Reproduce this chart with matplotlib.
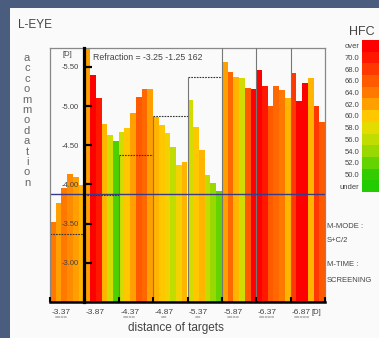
import matplotlib
matplotlib.use('Agg')
import matplotlib.pyplot as plt
import numpy as np
from matplotlib.colors import LinearSegmentedColormap, Normalize
from matplotlib.patches import Rectangle

plt.rcParams['font.family'] = ['Liberation Sans', 'DejaVu Sans']

# ---------------- data ----------------
target_labels = ["-3.37", "-3.87", "-4.37", "-4.87", "-5.37", "-5.87", "-6.37", "-6.87"]
target_values = [-3.37, -3.87, -4.37, -4.87, -5.37, -5.87, -6.37, -6.87]
target_marks = ["====", "", "====", "==", "==", "====", "=====", "====="]

accommodation = [
    -3.52, -3.76, -3.95, -4.13, -4.09, -3.99,
    -5.90, -5.40, -5.10, -4.77, -4.63, -4.56,
    -4.67, -4.72, -4.91, -5.12, -5.22, -5.22,
    -4.86, -4.76, -4.66, -4.48, -4.25, -4.28,
    -5.08, -4.73, -4.44, -4.12, -4.02, -3.92,
    -5.56, -5.44, -5.37, -5.36, -5.23, -5.22,
    -5.46, -5.26, -5.00, -5.25, -5.21, -5.10,
    -5.42, -5.06, -5.29, -5.36, -5.00, -4.79,
]
hfc = [
    64, 62, 64, 63, 62, 61,
    62, 72, 70, 61, 57, 51,
    57, 60, 62, 66, 65, 62,
    61, 60, 59, 56, 59, 61,
    57, 60, 61, 56, 54, 52,
    62, 65, 61, 57, 66, 71,
    72, 70, 66, 65, 64, 61,
    68, 72, 71, 61, 68, 66,
]
refraction_se = -3.875
refraction_text = "Refraction = -3.25 -1.25 162"

ytick_values = [-5.5, -5.0, -4.5, -4.0, -3.5, -3.0]
ytick_labels = ["-5.50", "-5.00", "-4.50", "-4.00", "-3.50", "-3.00"]

hfc_level_labels = ["over", "70.0", "68.0", "66.0", "64.0", "62.0", "60.0",
                    "58.0", "56.0", "54.0", "52.0", "50.0", "under"]
hfc_level_values = [71, 70, 68, 66, 64, 62, 60, 58, 56, 54, 52, 50, 49]

# ---------------- style ----------------
anchors = [(49, '#22cc00'), (50, '#33cc00'), (52, '#66d400'), (54, '#99d800'),
           (56, '#c0dc00'), (58, '#e4dc00'), (60, '#ffc800'), (62, '#ffa000'),
           (64, '#ff7800'), (66, '#ff5a00'), (68, '#ff3800'), (70, '#ff1800'),
           (71, '#ff0000')]
lo, hi = anchors[0][0], anchors[-1][0]
cmap = LinearSegmentedColormap.from_list(
    'hfc', [((v - lo) / (hi - lo), c) for v, c in anchors])
norm = Normalize(lo, hi)

W, H = 379, 338
fig = plt.figure(figsize=(W / 100, H / 100), dpi=100, facecolor='#4b5d7e')
fig.patches.append(Rectangle((10 / W, 0), 1, 1 - 8 / H, transform=fig.transFigure,
                             facecolor='#fafafa', edgecolor='none', zorder=-10))

txt = '#444444'
ax = fig.add_axes([50 / W, 1 - 302 / H, 275 / W, 254 / H])
ax.set_facecolor('#fafafa')

n_per = 6
x = np.arange(len(accommodation)) + 0.5
base = -2.5
ax.bar(x, np.array(accommodation) - base, bottom=base, width=1.0,
       color=cmap(norm(hfc)), linewidth=0, zorder=2)

ax.set_xlim(0, len(accommodation))
ax.set_ylim(base, -5.74)

# target boxes
for k, t in enumerate(target_values):
    ax.hlines(t, k * n_per, (k + 1) * n_per, colors='#333333', lw=0.8,
              linestyles=(0, (1.5, 1)), zorder=3)
    ax.vlines(k * n_per, base, t, colors='#777777', lw=0.8, zorder=3)
ax.axhline(refraction_se, color='#3a3a8a', lw=1.0, zorder=4)
ax.axvline(0, color='#888888', lw=0.9, zorder=5, clip_on=False)

ax.text(7.5, -5.615, refraction_text, fontsize=6.3, color=txt, va='center',
        ha='left', zorder=6)

# spines
ax.spines['left'].set_position(('data', n_per))
ax.spines['left'].set_linewidth(2.3)
ax.spines['left'].set_color('black')
ax.spines['left'].set_zorder(6)
for s in ('top', 'right'):
    ax.spines[s].set_color('#888888')
    ax.spines[s].set_linewidth(0.9)
ax.spines['bottom'].set_color('black')
ax.spines['bottom'].set_linewidth(1.8)
ax.spines['bottom'].set_zorder(6)

ax.set_yticks(ytick_values)
ax.set_yticklabels(ytick_labels)
ax.tick_params(axis='y', direction='in', length=6, width=1.6, color='black',
               labelsize=5.5, labelcolor=txt, pad=4)

ax.set_xticks(np.arange(0, len(accommodation) + 1, n_per))
ax.set_xticklabels([])
ax.tick_params(axis='x', which='major', direction='in', length=3.5, width=1.5,
               color='black')
ax.set_xticks(np.arange(len(target_labels)) * n_per + 1.9, minor=True)
ax.set_xticklabels(target_labels, minor=True)
ax.tick_params(axis='x', which='minor', length=0, labelsize=6, labelcolor=txt, pad=5)
ax.xaxis.set_zorder(7)
ax.yaxis.set_zorder(7)

for k, m in enumerate(target_marks):
    if m:
        xf = (50 + (k * n_per + 1.9) / len(accommodation) * 275) / W
        fig.text(xf, 1 - 318 / H, m, fontsize=4, color='#666666', ha='center',
                 va='center')

# texts
fig.text(18 / W, 1 - 25 / H, "L-EYE", fontsize=8.5, color=txt, ha='left', va='center')
for i, ch in enumerate("accommodation"):
    fig.text(27 / W, 1 - (58 + i * 10.4) / H, ch, fontsize=8, color='#666666',
             ha='center', va='center')
fig.text(67 / W, 1 - 54 / H, "[D]", fontsize=5.5, color=txt, ha='center', va='center')
fig.text(316 / W, 1 - 312 / H, "[D]", fontsize=5.5, color=txt, ha='center', va='center')
fig.text(176 / W, 1 - 328 / H, "distance of targets", fontsize=8.5, color=txt,
         ha='center', va='center')
for s, yy in [("M-MODE :", 226), ("S+C/2", 241), ("M-TIME :", 264), ("SCREENING", 281)]:
    fig.text(327 / W, 1 - yy / H, s, fontsize=5.5, color=txt, ha='left', va='center')

# HFC legend
fig.text(362 / W, 1 - 32 / H, "HFC", fontsize=9, color=txt, ha='center', va='center')
lax = fig.add_axes([362 / W, 1 - 192 / H, 20 / W, 152 / H])
n_lev = len(hfc_level_values)
ypos = np.arange(n_lev)[::-1]
lax.barh(ypos, 1, height=1.0, color=cmap(norm(hfc_level_values)), linewidth=0)
lax.set_ylim(-0.5, n_lev - 0.5)
lax.set_xlim(0, 1)
for s in lax.spines.values():
    s.set_visible(False)
lax.set_xticks([])
lax.set_yticks(ypos)
lax.set_yticklabels(hfc_level_labels)
lax.tick_params(axis='y', length=0, labelsize=5.5, labelcolor=txt, pad=2)

fig.savefig('out.png', dpi=100, facecolor=fig.get_facecolor())
